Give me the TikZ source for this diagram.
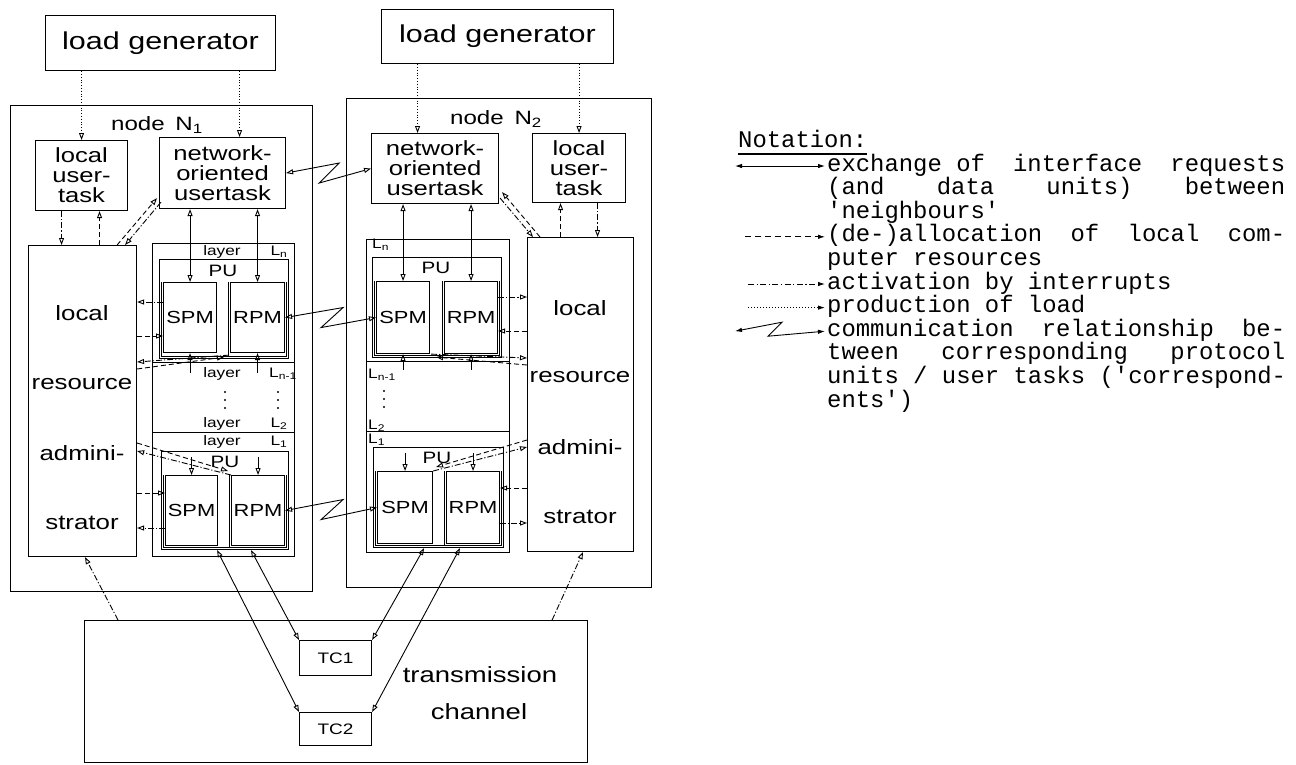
\documentclass[tikz,border=0pt]{standalone}
\usepackage{fontspec}
\usetikzlibrary{arrows.meta,calc}
\newfontfamily\df[FakeStretch=1.25]{Liberation Sans}
\newfontfamily\mf{Liberation Mono}
\newcommand\dfs[2]{\df\fontsize{#1pt}{#2pt}\selectfont}
\newcommand\mfs{\mf\fontsize{23.9pt}{23.6pt}\selectfont}
\begin{document}
\begin{tikzpicture}[x=1pt,y=-1pt,
  >={Triangle[open,length=7pt,width=5pt]},
  box/.style={draw,line width=1.1pt,inner sep=0pt,anchor=north west},
  lab/.style={inner sep=0pt},
  utask/.style={box,align=center,font=\dfs{20.5}{20}},
  admtxt/.style={lab,font=\dfs{20.7}{24}},
  modbox/.style={box,font=\dfs{17.5}{20}},
  putxt/.style={lab,font=\dfs{16.5}{19}},
  laytxt/.style={lab,font=\dfs{13.8}{16}},
  ln/.style={line width=0.9pt},
  xch/.style={ln,<->},
  alloc/.style={ln,->,dash pattern=on 5pt off 3pt},
  intr/.style={ln,->,dash pattern=on 6pt off 2pt on 1.2pt off 2pt},
  load/.style={ln,->,dash pattern=on 1pt off 1.8pt},
  legtxt/.style={lab,anchor=base west,font=\mfs}]
\useasboundingbox (0,0) rectangle (1296,764);

% load generators
\node[box,minimum width=230pt,minimum height=55pt,font=\dfs{24.4}{28}] (lg1) at (45,15) {load generator};
\node[box,minimum width=232pt,minimum height=54pt,font=\dfs{24.4}{28}] (lg2) at (381,9) {load generator};

% node frames
\node[box,minimum width=302pt,minimum height=486pt] (n1) at (10,105) {};
\node[box,minimum width=305pt,minimum height=489pt] (n2) at (346,98) {};
\node[lab,font=\dfs{19.3}{22}] (n1l) at (157,125) {node\hspace{4pt} N\textsubscript{1}};
\node[lab,font=\dfs{19.3}{22}] (n2l) at (496,119) {node\hspace{4pt} N\textsubscript{2}};

% user tasks
\node[utask,minimum width=92pt,minimum height=70pt] (lut1) at (35,140) {local\\user-\\task};
\node[utask,minimum width=126pt,minimum height=71pt] (not1) at (159,137) {network-\\oriented\\usertask};
\node[utask,minimum width=127pt,minimum height=70pt] (not2) at (371,133) {network-\\oriented\\usertask};
\node[utask,minimum width=93pt,minimum height=69pt] (lut2) at (532,133) {local\\user-\\task};

% local resource administrators
\node[box,minimum width=108pt,minimum height=311pt] (adm1) at (28,245) {};
\node[box,minimum width=106pt,minimum height=314pt] (adm2) at (527,237) {};
\node[admtxt] (a1a) at (82,313) {local};
\node[admtxt] (a1b) at (82,384) {resource};
\node[admtxt] (a1c) at (82,453) {admini-};
\node[admtxt] (a1d) at (82,523) {strator};
\node[admtxt] (a2a) at (580,308) {local};
\node[admtxt] (a2b) at (580,377) {resource};
\node[admtxt] (a2c) at (580,447) {admini-};
\node[admtxt] (a2d) at (580,517) {strator};

% layer stacks
\node[box,minimum width=142pt,minimum height=313pt] (lay1) at (152,243) {};
\node[box,minimum width=143pt,minimum height=313pt] (lay2) at (366,239) {};
\draw[line width=1pt] (152,362) -- (294,362) (152,432) -- (294,432);
\draw[line width=1pt] (366,361) -- (509,361) (366,431) -- (509,431);

% protocol units, left layer Ln
\node[box,minimum width=129pt,minimum height=99pt] (pun1) at (159,259) {};
\node[modbox,minimum width=53pt,minimum height=70pt] (spmn1) at (163,282) {SPM};
\node[modbox,minimum width=54pt,minimum height=70pt] (rpmn1) at (230,282) {RPM};
\draw[ln] (161,282) |- (286,356) -- (286,282);
\draw[ln] (228,282) -- (228,356);
% left layer L1
\node[box,minimum width=127pt,minimum height=98pt] (pu11) at (161,451) {};
\node[modbox,minimum width=52pt,minimum height=70pt] (spm11) at (165,475) {SPM};
\node[modbox,minimum width=53pt,minimum height=70pt] (rpm11) at (231,475) {RPM};
\draw[ln] (163,475) |- (286,547) -- (286,475);
\draw[ln] (229,475) -- (229,547);
% right layer Ln
\node[box,minimum width=129pt,minimum height=100pt] (pun2) at (372,257) {};
\node[modbox,minimum width=53pt,minimum height=72pt] (spmn2) at (376,281) {SPM};
\node[modbox,minimum width=53pt,minimum height=72pt] (rpmn2) at (444,281) {RPM};
\draw[ln] (374,281) |- (499,355) -- (499,281);
\draw[ln] (442,281) -- (442,355);
% right layer L1
\node[box,minimum width=130pt,minimum height=100pt] (pu12) at (373,447) {};
\node[modbox,minimum width=55pt,minimum height=72pt] (spm12) at (377,471) {SPM};
\node[modbox,minimum width=53pt,minimum height=72pt] (rpm12) at (446,471) {RPM};
\draw[ln] (375,471) |- (501,545) -- (501,471);
\draw[ln] (444,471) -- (444,545);

\node[putxt] (pt1) at (223,271) {PU};
\node[putxt] (pt2) at (225,462) {PU};
\node[putxt] (pt3) at (436,268) {PU};
\node[putxt] (pt4) at (437,458) {PU};

% layer labels left
\node[laytxt] (l1a) at (222,252) {layer};
\node[laytxt] (l1b) at (279,252) {L\textsubscript{n}};
\node[laytxt] (l1c) at (222,374) {layer};
\node[laytxt] (l1d) at (283,374) {L\textsubscript{n-1}};
\node[laytxt] (l1e) at (222,424) {layer};
\node[laytxt] (l1f) at (279,424) {L\textsubscript{2}};
\node[laytxt] (l1g) at (222,442) {layer};
\node[laytxt] (l1h) at (279,442) {L\textsubscript{1}};
\foreach \yy in {392,400,408} {\fill (225,\yy) circle (1.1); \fill (278,\yy) circle (1.1);}
% layer labels right
\node[laytxt,anchor=west] (l2a) at (372,245) {L\textsubscript{n}};
\node[laytxt,anchor=west] (l2b) at (368,375) {L\textsubscript{n-1}};
\node[laytxt,anchor=west] (l2c) at (368,426) {L\textsubscript{2}};
\node[laytxt,anchor=west] (l2d) at (368,440) {L\textsubscript{1}};
\foreach \yy in {391,399,407} {\fill (384,\yy) circle (1.1);}

% transmission channel
\node[box,minimum width=503pt,minimum height=142pt] (tcb) at (84,620) {};
\node[box,minimum width=72pt,minimum height=35pt,font=\dfs{15.2}{18}] (tc1) at (299,640) {TC1};
\node[box,minimum width=72pt,minimum height=33pt,font=\dfs{15.2}{18}] (tc2) at (299,712) {TC2};
\node[lab,font=\dfs{22}{26}] (tct) at (480,675) {transmission};
\node[lab,font=\dfs{22}{26}] (tcc) at (479,712) {channel};

% ---- connectors ----
% production of load
\coordinate (pa) at ([xshift=17pt]not1.north);
\coordinate (pb) at ([xshift=-17.5pt]not2.north);
\draw[load] (lut1.north |- lg1.south) -- (lut1.north);
\draw[load] (pa |- lg1.south) -- (pa);
\draw[load] (pb |- lg2.south) -- (pb);
\draw[load] (lut2.north |- lg2.south) -- (lut2.north);

% user tasks <-> administrators
\coordinate (ua) at ([xshift=-20pt]lut1.south);
\coordinate (ub) at ([xshift=18pt]lut1.south);
\coordinate (uc) at ([xshift=-18.5pt]lut2.south);
\coordinate (ud) at ([xshift=18.5pt]lut2.south);
\draw[intr] (ua) -- (ua |- adm1.north);
\draw[alloc] (ub |- adm1.north) -- (ub);
\draw[alloc] (uc |- adm2.north) -- (uc);
\draw[intr] (ud) -- (ud |- adm2.north);
\draw[alloc] ([xshift=-20pt]adm1.north east) -- ([xshift=-2pt,yshift=11pt]not1.south west);
\draw[intr] ([xshift=2pt,yshift=7pt]not1.south west) -- ([xshift=-12pt]adm1.north east);
\draw[alloc] ([xshift=13pt]adm2.north west) -- ([xshift=3pt,yshift=12pt]not2.south east);
\draw[intr] ([xshift=1pt,yshift=6pt]not2.south east) -- ([xshift=6pt]adm2.north west);

% neighbours
\draw[xch] (spmn1.north |- not1.south) -- (spmn1.north);
\draw[xch] (rpmn1.north |- not1.south) -- (rpmn1.north);
\draw[xch] (spmn2.north |- not2.south) -- (spmn2.north);
\draw[xch] (rpmn2.north |- not2.south) -- (rpmn2.north);
\draw[ln,->] ([yshift=-20pt]spmn1.south) -- (spmn1.south);
\draw[ln,->] ([yshift=-20pt]rpmn1.south) -- (rpmn1.south);
\draw[ln,->] ([yshift=-16pt]spmn2.south) -- (spmn2.south);
\draw[ln,->] ([yshift=-16pt]rpmn2.south) -- (rpmn2.south);
\draw[ln,->] ([yshift=18pt]spm11.north) -- (spm11.north);
\draw[ln,->] ([yshift=18pt]rpm11.north) -- (rpm11.north);
\draw[ln,->] ([yshift=18pt]spm12.north) -- (spm12.north);
\draw[ln,->] ([yshift=18pt]rpm12.north) -- (rpm12.north);

% correspondents
\draw[xch] (not1.east) -- ++(53,-10) -- ++(-20,20) -- (not2.west);
\draw[xch] (rpmn1.east) -- ++(58,-10) -- ++(-22,20) -- (spmn2.west);
\draw[xch] (rpm11.east) -- ++(58,-11) -- ++(-22,20) -- (spm12.west);

% protocol units <-> transmission channels
\coordinate (ta) at ([xshift=-1pt]spm11.south east);
\coordinate (tb) at ([xshift=20pt]rpm11.south west);
\coordinate (tx) at ([xshift=-9pt]spm12.south east);
\coordinate (td) at ([xshift=14pt]rpm12.south west);
\draw[xch] (ta |- pu11.south) -- (tc2.north west);
\draw[xch] (tb |- pu11.south) -- (tc1.north west);
\draw[xch] (tx |- pu12.south) -- (tc1.north east);
\draw[xch] (td |- pu12.south) -- (tc2.north east);

% administrators <-> protocol modules
\coordinate (Y302) at (0,302); \coordinate (Y336) at (0,336);
\coordinate (Y362) at (0,362); \coordinate (Y369) at (0,369);
\coordinate (Y443) at (0,443); \coordinate (Y451) at (0,451);
\coordinate (Y493) at (0,493); \coordinate (Y528) at (0,528);
\coordinate (Y297) at (0,297); \coordinate (Y331) at (0,331);
\coordinate (Y358) at (0,358); \coordinate (Y365) at (0,365);
\coordinate (Y440) at (0,440); \coordinate (Y447) at (0,447);
\coordinate (Y488) at (0,488); \coordinate (Y523) at (0,523);
\draw[intr] (spmn1.west |- Y302) -- (adm1.east |- Y302);
\draw[alloc] (adm1.east |- Y336) -- (spmn1.west |- Y336);
\draw[intr] ([xshift=-1pt,yshift=-2pt]rpmn1.south west) -- (adm1.east |- Y362);
\draw[alloc] (adm1.east |- Y369) -- ([xshift=-6pt,yshift=-4pt]rpmn1.south west);
\draw[intr] (rpm11.north west) -- (adm1.east |- Y451);
\draw[alloc] (adm1.east |- Y443) -- ([xshift=-3pt,yshift=4pt]rpm11.north west);
\draw[alloc] (adm1.east |- Y493) -- (spm11.west |- Y493);
\draw[intr] (spm11.west |- Y528) -- (adm1.east |- Y528);
\draw[intr] (rpmn2.east |- Y297) -- (adm2.west |- Y297);
\draw[alloc] (adm2.west |- Y331) -- (rpmn2.east |- Y331);
\draw[intr] ([xshift=1pt]spmn2.south east) -- (adm2.west |- Y358);
\draw[alloc] (adm2.west |- Y365) -- ([xshift=6pt,yshift=-3pt]spmn2.south east);
\draw[intr] (spm12.north east) -- (adm2.west |- Y447);
\draw[alloc] (adm2.west |- Y440) -- ([xshift=3pt,yshift=4pt]spm12.north east);
\draw[alloc] (adm2.west |- Y488) -- (rpm12.east |- Y488);
\draw[intr] (rpm12.east |- Y523) -- (adm2.west |- Y523);

% transmission channel -> administrators
\draw[intr] ([xshift=34pt]tcb.north west) -- ([xshift=57pt]adm1.south west);
\draw[intr] ([xshift=-36pt]tcb.north east) -- ([xshift=56pt]adm2.south west);

% ---- notation ----
\node[legtxt] (nota) at (738,147) {Notation:};
\draw[line width=1.2pt] ([yshift=-7pt]nota.base west) -- ([yshift=-7pt]nota.base east);
\node[legtxt] (lg01) at (827,171) {\hbox to 458pt{exchange of\hfill interface\hfill requests}};
\node[legtxt] (lg02) at (827,194.6) {\hbox to 458pt{(and\hfill data\hfill units)\hfill between}};
\node[legtxt] (lg03) at (827,218.2) {\textquotesingle neighbours\textquotesingle};
\node[legtxt] (lg04) at (827,241.8) {\hbox to 458pt{(de-)allocation\hfill of\hfill local\hfill com-}};
\node[legtxt] (lg05) at (827,265.4) {puter resources};
\node[legtxt] (lg06) at (827,289) {activation by interrupts};
\node[legtxt] (lg07) at (827,312.6) {production of load};
\node[legtxt] (lg08) at (827,336.2) {\hbox to 458pt{communication\hfill relationship\hfill be-}};
\node[legtxt] (lg09) at (827,359.8) {\hbox to 458pt{tween\hfill corresponding\hfill protocol}};
\node[legtxt] (lg10) at (827,383.4) {units / user tasks (\textquotesingle correspond-};
\node[legtxt] (lg11) at (827,407) {ents\textquotesingle)};

\draw[ln,{Latex[length=7pt,width=4.5pt]}-{Latex[length=7pt,width=4.5pt]}]
  ([xshift=-92pt,yshift=5pt]lg01.base west) -- ([xshift=-2pt,yshift=5pt]lg01.base west);
\draw[ln,dash pattern=on 6pt off 4pt,-{Latex[length=7pt,width=4.5pt]}]
  ([xshift=-82pt,yshift=5pt]lg04.base west) -- ([xshift=-2pt,yshift=5pt]lg04.base west);
\draw[ln,dash pattern=on 6pt off 2.5pt on 1.2pt off 2.5pt,-{Latex[length=7pt,width=4.5pt]}]
  ([xshift=-79pt,yshift=5pt]lg06.base west) -- ([xshift=-2pt,yshift=5pt]lg06.base west);
\draw[ln,dash pattern=on 1pt off 2pt,-{Latex[length=7pt,width=4.5pt]}]
  ([xshift=-79pt,yshift=5pt]lg07.base west) -- ([xshift=-2pt,yshift=5pt]lg07.base west);
\draw[ln,{Latex[length=7pt,width=4.5pt]}-{Latex[length=7pt,width=4.5pt]}]
  ([xshift=-92pt,yshift=5pt]lg08.base west) -- ++(47,-9) -- ++(-14,14) -- ([xshift=-2pt,yshift=5pt]lg08.base west);
\end{tikzpicture}
\end{document}
